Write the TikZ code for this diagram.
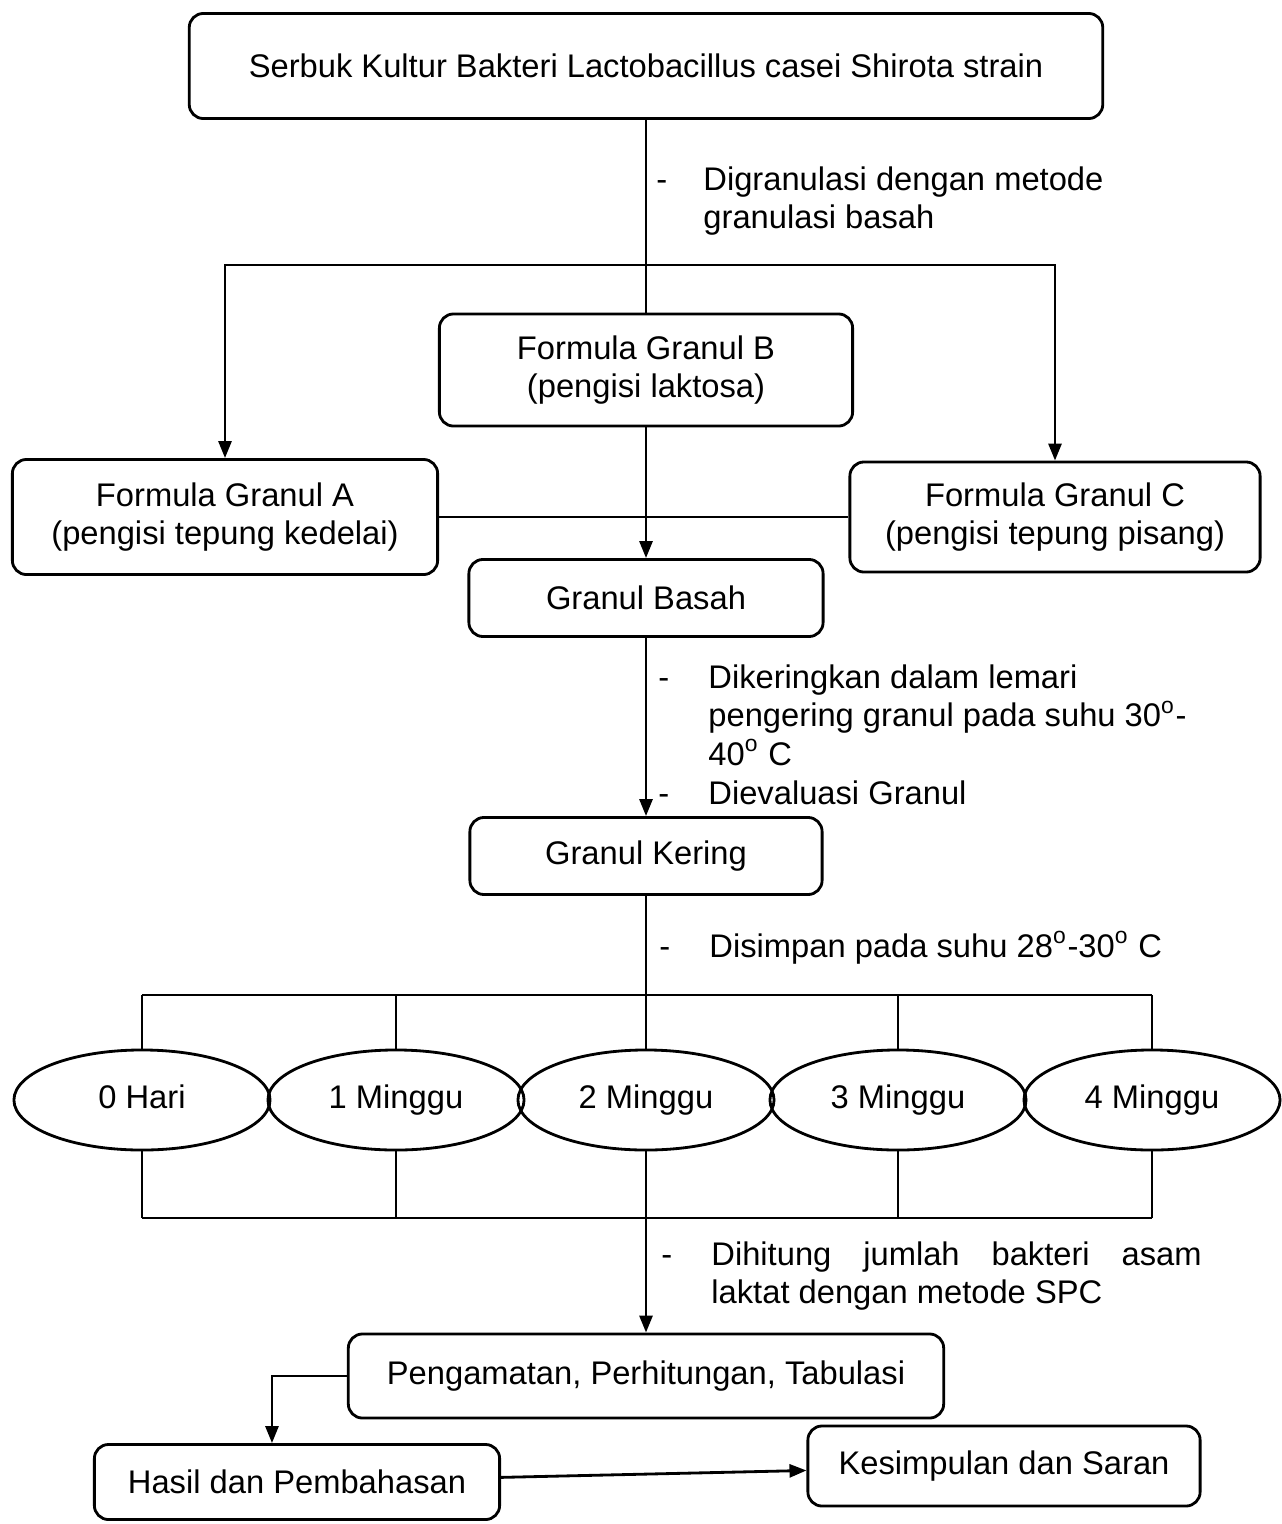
\documentclass[tikz,border=0pt]{standalone}
\usepackage{fontspec}
\setmainfont{Liberation Sans}
\usetikzlibrary{arrows.meta, shapes.geometric}
\newcommand{\teks}{\fontsize{9.3}{11}\selectfont}

\begin{document}
\begin{tikzpicture}[x=0.01cm, y=-0.01cm, line width=0.8pt,
    >={Triangle[length=0.17cm, width=0.13cm]},
    kotak/.style={draw, rounded corners=4pt, align=center, font=\teks, inner sep=2pt},
    waktu/.style={draw, ellipse, font=\teks, minimum width=2.56cm, minimum height=1cm, inner sep=0pt, text height=7pt, text depth=2pt},
    ket/.style={anchor=base west, inner sep=0pt, font=\teks}]
    \useasboundingbox (0,0) rectangle (1282,1524);
    \node[kotak, minimum width=9.13cm, minimum height=1.05cm] (serbuk) at (646,66) {Serbuk Kultur Bakteri Lactobacillus casei Shirota strain};
    \node[kotak, minimum width=4.13cm, minimum height=1.12cm] (granB) at (646,370) {Formula Granul B\\(pengisi laktosa)};
    \node[kotak, minimum width=4.25cm, minimum height=1.15cm] (granA) at (225,517) {Formula Granul A\\(pengisi tepung kedelai)};
    \node[kotak, minimum width=4.1cm, minimum height=1.1cm] (granC) at (1055,517) {Formula Granul C\\(pengisi tepung pisang)};
    \node[kotak, minimum width=3.54cm, minimum height=0.77cm] (basah) at (646,598) {Granul Basah};
    \node[kotak, minimum width=3.52cm, minimum height=0.77cm] (kering) at (646,856) {Granul Kering};
    \node[waktu] (t0) at (142,1100) {0 Hari};
    \node[waktu] (t1) at (396,1100) {1 Minggu};
    \node[waktu] (t2) at (646,1100) {2 Minggu};
    \node[waktu] (t3) at (898,1100) {3 Minggu};
    \node[waktu] (t4) at (1152,1100) {4 Minggu};
    \node[kotak, minimum width=5.95cm, minimum height=0.84cm] (amati) at (646,1376) {Pengamatan, Perhitungan, Tabulasi};
    \node[kotak, minimum width=4.05cm, minimum height=0.75cm] (hasil) at (297,1482) {Hasil dan Pembahasan};
    \node[kotak, minimum width=3.92cm, minimum height=0.8cm] (simpul) at (1004,1466) {Kesimpulan dan Saran};

    \node[ket] (ketgranulasi) at (655,190) {\begin{tabular}[t]{@{}p{0.47cm}@{}l@{}}- & Digranulasi dengan metode\\ & granulasi basah\end{tabular}};
    \node[ket] (ketkering) at (657,688) {\begin{tabular}[t]{@{}p{0.5cm}@{}l@{}}- & Dikeringkan dalam lemari\\ & pengering granul pada suhu 30\textsuperscript{o}-\\ & 40\textsuperscript{o} C\\- & Dievaluasi Granul\end{tabular}};
    \node[ket] (ketsimpan) at (658,957) {\begin{tabular}[t]{@{}p{0.5cm}@{}l@{}}- & Disimpan pada suhu 28\textsuperscript{o}-30\textsuperscript{o} C\end{tabular}};
    \node[ket] (kethitung) at (660,1265) {\begin{tabular}[t]{@{}p{0.5cm}@{}p{4.9cm}@{}}- & Dihitung jumlah bakteri asam\linebreak laktat dengan metode SPC\end{tabular}};

    \coordinate (cabang) at (646,265);
    \coordinate (atas) at (646,995);
    \coordinate (bawah) at (646,1218);
    \draw (serbuk) -- (granB);
    \draw[<->] (granA.north) |- (cabang) -| (granC.north);
    \draw (granA) -- (granC);
    \draw[->] (granB) -- (basah);
    \draw[->] (basah) -- (kering);
    \draw (kering) -- (atas);
    \draw (t0.north |- atas) -- (t4.north |- atas);
    \draw (t0.south |- bawah) -- (t4.south |- bawah);
    \foreach \t in {t0,t1,t2,t3,t4} {
        \draw (\t.north) -- (\t.north |- atas);
        \draw (\t.south) -- (\t.south |- bawah);
    }
    \draw[->] (bawah) -- (amati);
    \draw[->] (amati.west) -| ([xshift=-0.25cm]hasil.north);
    \draw[->] (hasil) -- (simpul);
\end{tikzpicture}
\end{document}
